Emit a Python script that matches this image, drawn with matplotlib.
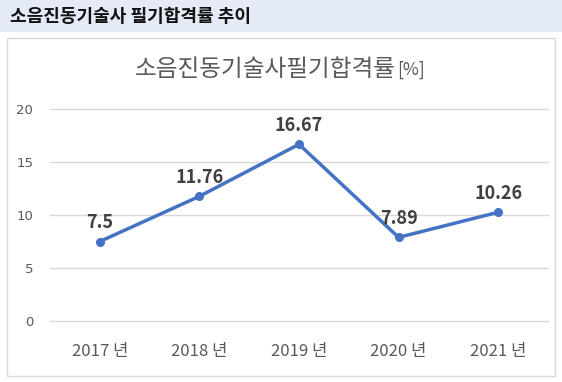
import matplotlib.pyplot as plt
from matplotlib.patches import Rectangle

plt.rcParams['font.family'] = ['Noto Sans CJK KR', 'DejaVu Sans']

years = ['2017 년', '2018 년', '2019 년', '2020 년', '2021 년']
rates = [7.5, 11.76, 16.67, 7.89, 10.26]
rate_labels = ['7.5', '11.76', '16.67', '7.89', '10.26']
yticks = [0, 5, 10, 15, 20]

W, H = 562, 382
fig = plt.figure(figsize=(W / 100, H / 100), dpi=100)

# header band
fig.patches.append(Rectangle((0, 1 - 32 / H), 1, 32 / H, transform=fig.transFigure,
                             facecolor='#e4eaf6', edgecolor='none', zorder=-5))
fig.text(10 / W, 1 - 16 / H, '소음진동기술사 필기합격률 추이', fontsize=13,
         fontweight='bold', color='#111111', va='center', ha='left')

# chart frame
fig.patches.append(Rectangle((7 / W, 1 - 376 / H), 548 / W, 338 / H, transform=fig.transFigure,
                             facecolor='white', edgecolor='#d9d9d9', linewidth=1, zorder=-5))
fig.text(396 / W, 1 - 70 / H, '소음진동기술사필기합격률', fontsize=17,
         color='#595959', va='center', ha='right', fontweight='light')
fig.text(397 / W, 1 - 70 / H, '[%]', fontsize=12.5,
         color='#595959', va='center', ha='left', fontweight='light')

ax = fig.add_axes([50 / W, 1 - 321 / H, 498 / W, 212 / H])
ax.set_zorder(5)
ax.set_facecolor('none')
x = range(len(years))
ax.plot(x, rates, color='#4472c4', linewidth=2.5, marker='o', markersize=5.5, zorder=3)
for xi, v, lab in zip(x, rates, rate_labels):
    ax.annotate(lab, (xi, v), xytext=(0, 7), textcoords='offset points', ha='center',
                va='bottom', fontsize=13, fontweight='bold', color='#404040')

ax.set_xlim(-0.5, len(years) - 0.5)
ax.set_ylim(0, 20)
ax.set_yticks(yticks)
ax.set_xticks(list(x))
ax.set_xticklabels(years)
ax.grid(axis='y', color='#d9d9d9', linewidth=1)
for gl in ax.get_ygridlines():
    gl.set_clip_on(False)
ax.set_axisbelow(True)
for s in ax.spines.values():
    s.set_visible(False)
ax.tick_params(axis='both', length=0, colors='#595959')
ax.tick_params(axis='y', labelsize=9.5, pad=12)
ax.tick_params(axis='x', labelsize=12, pad=16)
for t in ax.get_yticklabels():
    t.set_fontfamily('DejaVu Sans')

fig.savefig('out.png', dpi=100)
